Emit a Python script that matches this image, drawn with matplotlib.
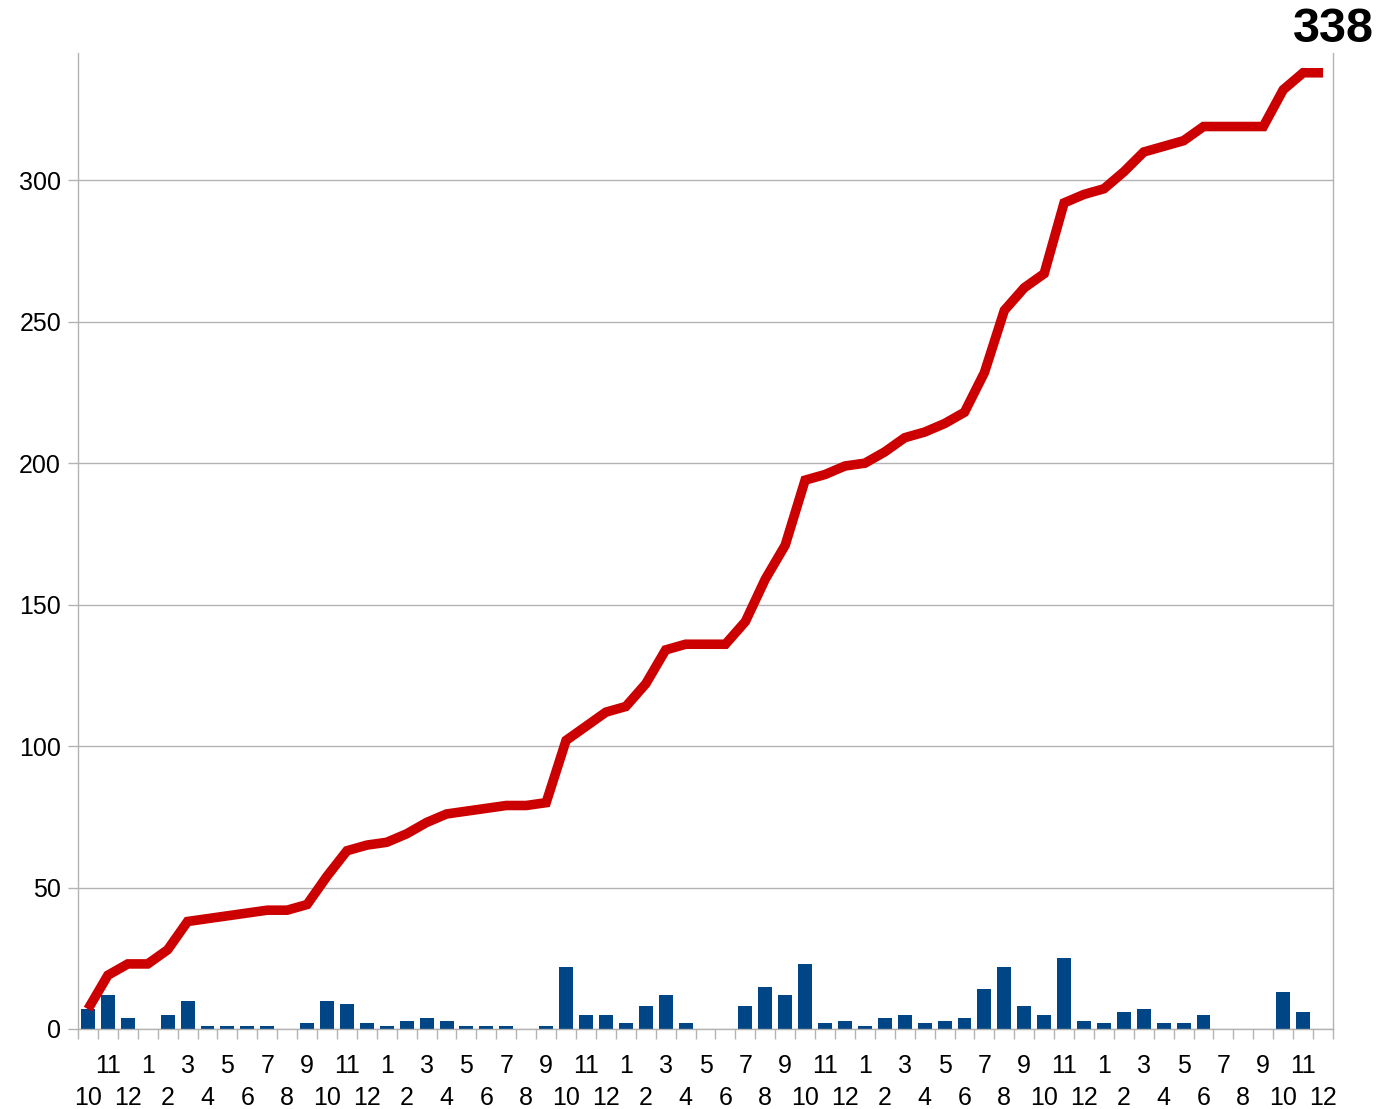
import matplotlib.pyplot as plt

plt.rcParams['font.family'] = ['Liberation Sans', 'DejaVu Sans']

# months from 10 of the first year to 12 of the last year
months = [10, 11, 12] + list(range(1, 13)) * 5
monthly = [7, 12, 4, 0, 5, 10, 1, 1, 1, 1, 0, 2, 10, 9, 2, 1, 3, 4, 3, 1,
           1, 1, 0, 1, 22, 5, 5, 2, 8, 12, 2, 0, 0, 8, 15, 12, 23, 2, 3, 1,
           4, 5, 2, 3, 4, 14, 22, 8, 5, 25, 3, 2, 6, 7, 2, 2, 5, 0, 0, 0,
           13, 6, 0]
cumulative = [7, 19, 23, 23, 28, 38, 39, 40, 41, 42, 42, 44, 54, 63, 65, 66,
              69, 73, 76, 77, 78, 79, 79, 80, 102, 107, 112, 114, 122, 134,
              136, 136, 136, 144, 159, 171, 194, 196, 199, 200, 204, 209, 211,
              214, 218, 232, 254, 262, 267, 292, 295, 297, 303, 310, 312, 314,
              319, 319, 319, 319, 332, 338, 338]
y_ticks = [0, 50, 100, 150, 200, 250, 300]

grey = '#b3b3b3'
n = len(months)
x = list(range(n))

fig = plt.figure(figsize=(13.94, 11.09), dpi=100)
ax = fig.add_axes([0.05595, 0.07214, 0.9003, 0.8801])

ax.bar(x, monthly, width=0.7, color='#004586', zorder=2)
ax.plot(x, cumulative, color='#cc0000', linewidth=6.9,
        solid_capstyle='butt', solid_joinstyle='miter', zorder=3)

ax.set_xlim(-0.5, n - 0.5)
ax.set_ylim(0, 345)

ax.set_yticks(y_ticks)
ax.set_yticklabels([str(v) for v in y_ticks], fontsize=18)
ax.yaxis.grid(True, color=grey, linewidth=1)
ax.set_axisbelow(True)

ax.set_xticks([i - 0.5 for i in range(n + 1)])
ax.set_xticklabels([])
ax.tick_params(axis='both', color=grey, length=7.2, width=1)
ax.tick_params(axis='y', pad=5)

for i, m in enumerate(months):
    off = -27 if i % 2 else -50
    ax.annotate(str(m), xy=(i, 0), xycoords=('data', 'axes fraction'),
                xytext=(0, off), textcoords='offset points',
                ha='center', va='center', fontsize=18)

for side in ['left', 'right', 'bottom']:
    ax.spines[side].set_color(grey)
    ax.spines[side].set_linewidth(1)
ax.spines['top'].set_visible(False)

ax.annotate(str(cumulative[-1]), xy=(1.0, 1.0), xycoords='axes fraction',
            xytext=(0, 8), textcoords='offset points',
            ha='center', va='baseline', fontsize=35, fontweight='bold')

fig.savefig('out.png', dpi=100)
